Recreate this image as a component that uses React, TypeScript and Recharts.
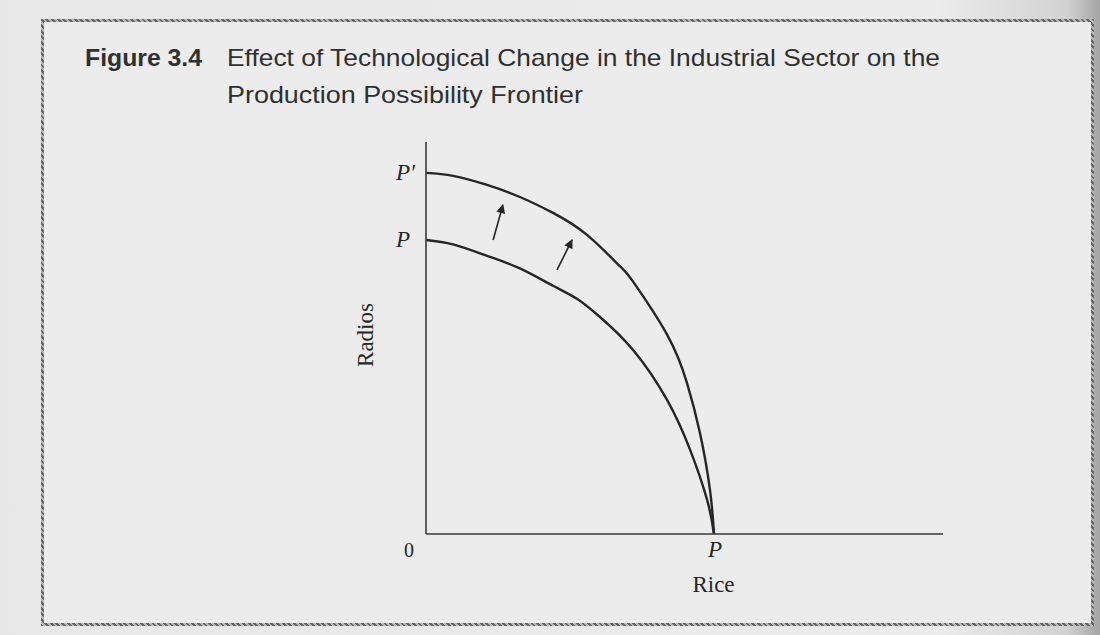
import React from 'react';
import { LineChart, Line, XAxis, YAxis, Label } from 'recharts';

// frontier before the change (P-P) and after it (P'-P)
const innerRice = [0, 9.4, 21.2, 32.6, 44.1, 52.4, 60.4, 71.9, 83.7, 91.7, 97.6, 100];
const innerRadios = [100, 98.5, 94.6, 90.3, 84.4, 80.0, 73.8, 62.6, 45.6, 28.6, 11.6, 0];

const outerRice = [0, 9.4, 21.2, 32.6, 44.1, 55.9, 67.4, 71.9, 83.7, 90.6, 95.1, 98.6, 100];
const outerRadios = [122.8, 121.8, 118.7, 114.6, 109.2, 101.7, 91.0, 85.8, 67.8, 51.4, 34.4, 15.0, 0];

// shift arrows: [tail, head]
const arrowRice = [[23.3, 26.7], [45.5, 50.7]];
const arrowRadios = [[100, 111.9], [89.8, 100]];

const radioTicks = [100, 122.8];
const radioTickLabels = ['P', 'P\u2032'];
const riceTicks = [0, 100];
const riceTickLabels = ['0', 'P'];

const toPoints = (xs: number[], ys: number[]) => xs.map((rice, i) => ({ rice, radios: ys[i] }));

const innerData = toPoints(innerRice, innerRadios);
const outerData = toPoints(outerRice, outerRadios);
const arrowData = arrowRice.map((xs, i) => toPoints(xs, arrowRadios[i]));

const ink = '#262626';
const serif = '"Liberation Serif", "DejaVu Serif", serif';
const sans = '"Liberation Sans Narrow", "Liberation Sans", Arial, sans-serif';

const RadioTick = (props: any) => {
  const { x, y, payload } = props;
  const idx = radioTicks.indexOf(payload.value);
  return (
    <text x={x - 30} y={y + 7} fill={ink} fontFamily={serif} fontStyle="italic" fontSize={23}>
      {radioTickLabels[idx]}
    </text>
  );
};

const RiceTick = (props: any) => {
  const { x, y, payload } = props;
  const idx = riceTicks.indexOf(payload.value);
  const isOrigin = payload.value === 0;
  return (
    <text
      x={isOrigin ? x - 17 : x + 1}
      y={y + 23}
      textAnchor="middle"
      fill={ink}
      fontFamily={serif}
      fontStyle={isOrigin ? 'normal' : 'italic'}
      fontSize={isOrigin ? 20 : 23}
    >
      {riceTickLabels[idx]}
    </text>
  );
};

const App = () => {
  return (
    <div
      style={{
        position: 'absolute',
        left: 0,
        top: 0,
        width: 1100,
        height: 635,
        overflow: 'hidden',
        background: 'linear-gradient(to right, #e7e7e7 0%, #ececec 85%, #d2d2d2 97%, #a4a4a4 100%)',
      }}
    >
      {/* shared marker for the arrows */}
      <svg width={0} height={0} style={{ position: 'absolute' }}>
        <defs>
          <marker
            id="arrowHead"
            viewBox="0 0 10 10"
            refX={9}
            refY={5}
            markerWidth={10}
            markerHeight={9}
            markerUnits="userSpaceOnUse"
            orient="auto"
          >
            <path d="M0,0 L10,5 L0,10 z" fill={ink} />
          </marker>
        </defs>
      </svg>

      {/* figure frame */}
      <div
        style={{
          position: 'absolute',
          left: 41,
          top: 19,
          width: 1047,
          height: 601,
          borderStyle: 'solid',
          borderWidth: 3,
          borderImage: 'repeating-linear-gradient(45deg, #666 0 2px, #b5b5b5 2px 4px) 3',
          background: '#ececec',
        }}
      />

      <svg width={1100} height={130} style={{ position: 'absolute', left: 0, top: 0 }}>
        <text x={85} y={66} fontFamily={sans} fontWeight="bold" fontSize={24} fill="#303030"
          textLength={117} lengthAdjust="spacingAndGlyphs">
          Figure 3.4
        </text>
        <text x={227} y={66} fontFamily={sans} fontSize={24} fill="#303030"
          textLength={713} lengthAdjust="spacingAndGlyphs">
          Effect of Technological Change in the Industrial Sector on the
        </text>
        <text x={227} y={103} fontFamily={sans} fontSize={24} fill="#303030"
          textLength={356} lengthAdjust="spacingAndGlyphs">
          Production Possibility Frontier
        </text>
      </svg>

      <div style={{ position: 'absolute', left: 0, top: 0 }}>
        <LineChart width={1100} height={635} margin={{ top: 142, right: 157, bottom: 31, left: 356 }}>
          <XAxis
            type="number"
            dataKey="rice"
            domain={[0, 179.5]}
            allowDataOverflow
            ticks={riceTicks}
            interval={0}
            height={70}
            tickSize={0}
            tickMargin={0}
            tickLine={false}
            axisLine={{ stroke: '#3a3a3a', strokeWidth: 1.6 }}
            tick={<RiceTick />}
          >
            <Label
              content={({ viewBox }: any) => (
                <text
                  x={viewBox.x + viewBox.width / 2 + 29}
                  y={viewBox.y + viewBox.height - 12}
                  textAnchor="middle"
                  fill={ink}
                  fontFamily={serif}
                  fontSize={23}
                >
                  Rice
                </text>
              )}
            />
          </XAxis>
          <YAxis
            type="number"
            dataKey="radios"
            domain={[0, 133.3]}
            allowDataOverflow
            ticks={radioTicks}
            interval={0}
            width={70}
            tickSize={0}
            tickMargin={0}
            tickLine={false}
            axisLine={{ stroke: '#3a3a3a', strokeWidth: 1.6 }}
            tick={<RadioTick />}
          >
            <Label
              content={({ viewBox }: any) => {
                const cx = viewBox.x + 9;
                const cy = viewBox.y + viewBox.height / 2 - 3;
                return (
                  <text
                    x={cx}
                    y={cy}
                    transform={`rotate(-90 ${cx} ${cy})`}
                    textAnchor="middle"
                    dominantBaseline="central"
                    fill={ink}
                    fontFamily={serif}
                    fontSize={23}
                  >
                    Radios
                  </text>
                );
              }}
            />
          </YAxis>
          <Line data={innerData} dataKey="radios" type="natural" stroke={ink} strokeWidth={2.4}
            dot={false} activeDot={false} isAnimationActive={false} />
          <Line data={outerData} dataKey="radios" type="natural" stroke={ink} strokeWidth={2.4}
            dot={false} activeDot={false} isAnimationActive={false} />
          {arrowData.map((d, i) => (
            <Line key={i} data={d} dataKey="radios" type="linear" stroke={ink} strokeWidth={1.6}
              markerEnd="url(#arrowHead)" dot={false} activeDot={false} isAnimationActive={false} />
          ))}
        </LineChart>
      </div>
    </div>
  );
};

export default App;
